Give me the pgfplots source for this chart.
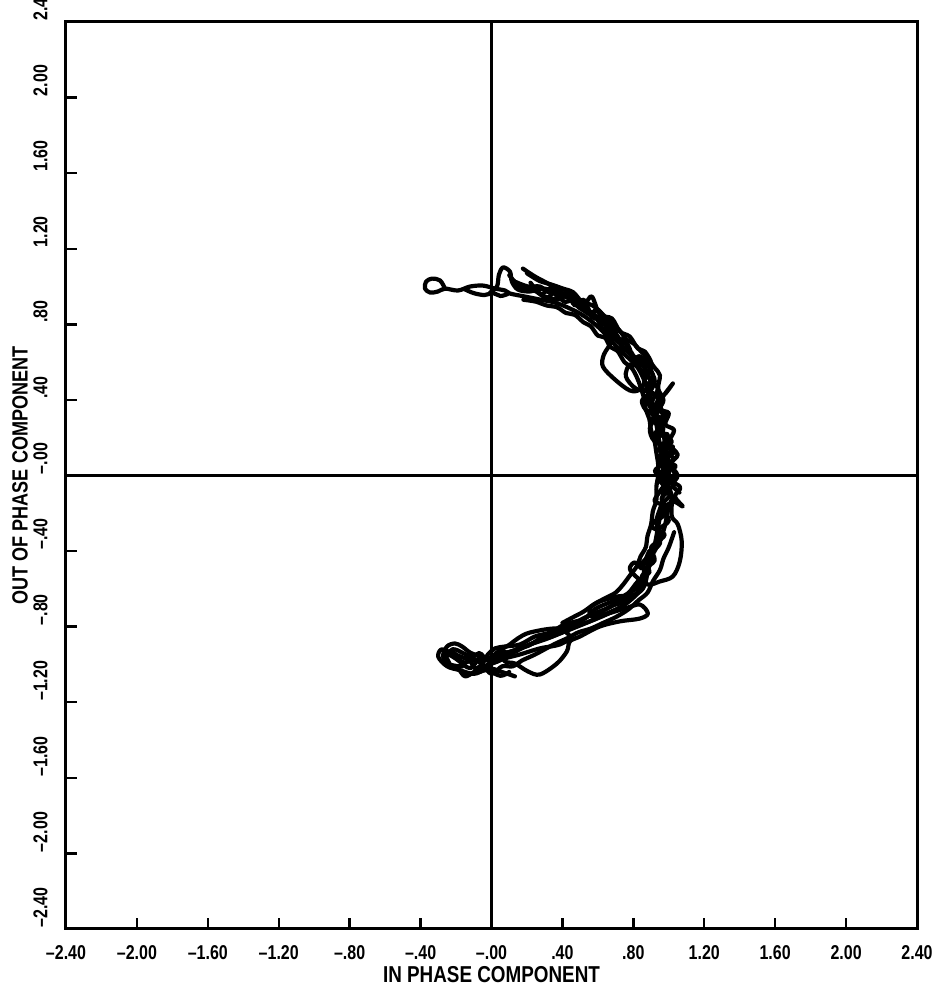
\documentclass[border=0pt]{standalone}
\usepackage{fontspec}
\newfontfamily\tickfont[FakeStretch=0.8]{Liberation Sans}
\newfontfamily\lblfont[FakeStretch=0.82]{Liberation Sans}
\usepackage{pgfplots}
\pgfplotsset{compat=1.18}
\begin{document}
\begin{tikzpicture}
\begin{axis}[
  scale only axis, width=425.5pt, height=453.5pt,
  xmin=-2.4, xmax=2.4, ymin=-2.4, ymax=2.4,
  axis line style={line width=1.5pt},
  tick align=inside, tick pos=left, major tick length=5.5pt,
  every tick/.style={black, line width=1.2pt},
  xtick={-2.4,-2,-1.6,-1.2,-0.8,-0.4,0,0.4,0.8,1.2,1.6,2,2.4},
  ytick={-2.4,-2,-1.6,-1.2,-0.8,-0.4,0,0.4,0.8,1.2,1.6,2,2.4},
  xticklabels={–2.40,–2.00,–1.60,–1.20,–.80,–.40,–.00,.40,.80,1.20,1.60,2.00,2.40},
  yticklabels={–2.40,–2.00,–1.60,–1.20,–.80,–.40,–.00,.40,.80,1.20,1.60,2.00,2.40},
  xticklabel style={font=\tickfont\bfseries\fontsize{10}{12}\selectfont, anchor=north, yshift=-4.5pt},
  yticklabel style={font=\tickfont\bfseries\fontsize{10}{12}\selectfont, rotate=90, anchor=south west, inner xsep=0.5pt, inner ysep=9pt},
  xlabel={IN PHASE COMPONENT},
  ylabel={OUT OF PHASE COMPONENT},
  xlabel style={font=\lblfont\bfseries\fontsize{11.5}{13}\selectfont, at={(axis description cs:0.5,-0.0507)}, anchor=center},
  ylabel style={font=\lblfont\bfseries\fontsize{11}{13}\selectfont, at={(axis description cs:-0.054,0.5)}, anchor=center},
  trace/.style={black, line width=2.1pt, line join=round, line cap=round, smooth, tension=0.55},
]
\addplot[black, line width=1.3pt] coordinates {(-2.4,0) (2.4,0)};
\addplot[black, line width=1.3pt] coordinates {(0,-2.4) (0,2.4)};
% pass 1
\addplot[trace] coordinates {
(-0.262,0.989) (-0.290,1.032) (-0.335,1.042) (-0.369,1.026) (-0.375,0.989) (-0.346,0.968) (-0.301,0.974) (-0.262,0.989)
(-0.189,0.979) (-0.121,1.000) (-0.048,1.005) (0.020,0.989) (0.076,0.979) (0.104,0.963) (0.189,0.947) (0.273,0.931)
(0.358,0.915) (0.442,0.884) (0.527,0.841) (0.611,0.778) (0.679,0.709) (0.752,0.640) (0.820,0.577) (0.865,0.497)
(0.893,0.418) (0.915,0.339) (0.932,0.259) (0.949,0.164) (0.961,0.074) (0.972,-0.005) (0.966,-0.101) (0.955,-0.190)
(0.938,-0.280) (0.921,-0.365) (0.899,-0.444) (0.870,-0.524) (0.837,-0.598) (0.780,-0.661) (0.707,-0.709) (0.611,-0.751)
(0.510,-0.788) (0.414,-0.825) (0.318,-0.862) (0.217,-0.894) (0.132,-0.926) (0.048,-0.947) (-0.020,-0.968) (-0.093,-0.979)
(-0.177,-0.958) (-0.234,-0.931) (-0.262,-0.958) (-0.234,-1.000) (-0.166,-1.011)
};
% pass 1b: lens near the vertical axis
\addplot[trace] coordinates {
(-0.150,0.985) (-0.100,0.965) (-0.040,0.955) (0.010,0.965) (0.050,0.950) (0.090,0.960)
};
% pass 2
\addplot[trace] coordinates {
(0.177,1.095) (0.245,1.053) (0.318,1.016) (0.386,0.974) (0.454,0.931) (0.499,0.884) (0.583,0.841) (0.639,0.762)
(0.713,0.709) (0.769,0.656) (0.837,0.603) (0.882,0.534) (0.904,0.471) (0.882,0.392) (0.921,0.323) (0.961,0.259)
(0.977,0.180) (0.994,0.101) (1.006,0.037) (0.989,-0.032) (1.017,-0.111) (0.994,-0.190) (0.977,-0.270) (0.949,-0.349)
(0.904,-0.429) (0.882,-0.508) (0.854,-0.587) (0.808,-0.640) (0.735,-0.693) (0.639,-0.735) (0.555,-0.772) (0.442,-0.815)
(0.341,-0.852) (0.245,-0.884) (0.161,-0.915) (0.076,-0.942) (0.020,-0.974) (-0.037,-1.011) (-0.076,-1.042) (-0.008,-1.021)
(0.065,-1.042) (0.132,-1.063)
};
% pass 3
\addplot[trace] coordinates {
(-0.008,0.968) (0.031,1.000) (0.042,1.063) (0.065,1.101) (0.104,1.079) (0.115,1.026) (0.149,0.984) (0.217,0.974)
(0.301,0.989) (0.386,0.958) (0.470,0.921) (0.555,0.868) (0.639,0.799) (0.679,0.720) (0.634,0.640) (0.628,0.577)
(0.696,0.508) (0.780,0.450) (0.837,0.455) (0.865,0.508) (0.837,0.566) (0.780,0.587) (0.758,0.524) (0.814,0.460)
(0.893,0.444) (0.961,0.418) (1.023,0.487) (0.961,0.407) (0.927,0.312) (0.893,0.249) (0.921,0.180) (1.034,0.127)
(0.949,0.090) (1.039,0.048) (0.938,0.005) (1.062,-0.058) (1.034,-0.111) (1.079,-0.164) (1.023,-0.138) (1.017,-0.217)
(1.051,-0.259) (1.073,-0.349) (1.062,-0.455) (1.023,-0.534) (0.949,-0.561) (0.882,-0.577) (0.814,-0.534) (0.780,-0.492)
(0.808,-0.460) (0.848,-0.492) (0.865,-0.455) (0.893,-0.402) (0.865,-0.577) (0.808,-0.630) (0.713,-0.640) (0.611,-0.667)
(0.555,-0.704) (0.566,-0.746) (0.639,-0.735) (0.752,-0.704) (0.837,-0.683) (0.882,-0.730) (0.837,-0.757) (0.724,-0.772)
(0.611,-0.799) (0.499,-0.852) (0.442,-0.878) (0.425,-0.931) (0.369,-0.995) (0.273,-1.053) (0.206,-1.037) (0.132,-0.995)
(0.076,-0.984) (0.048,-0.931) (0.104,-0.894) (0.149,-0.862) (0.217,-0.831) (0.369,-0.810) (0.442,-0.852) (0.386,-0.894)
(0.273,-0.915) (0.161,-0.947) (0.076,-0.968) (-0.008,-1.000) (-0.093,-1.037) (-0.149,-1.063) (-0.189,-1.021) (-0.234,-1.000)
(-0.273,-0.958) (-0.251,-0.905) (-0.206,-0.889) (-0.166,-0.905) (-0.121,-0.937) (-0.065,-0.958)
};
% pass 4
\addplot[trace] coordinates {
(0.301,0.947) (0.375,0.931) (0.442,0.958) (0.499,0.894) (0.555,0.852) (0.600,0.878) (0.668,0.788) (0.696,0.735)
(0.752,0.709) (0.792,0.630) (0.865,0.619) (0.893,0.566) (0.921,0.497) (0.882,0.429) (0.848,0.392) (0.882,0.339)
(0.949,0.365) (0.966,0.286) (0.915,0.206) (0.994,0.217) (0.949,0.127) (1.023,0.153) (0.977,0.074) (0.921,0.021)
(0.994,-0.016) (0.949,-0.085) (0.921,-0.138) (0.994,-0.164) (0.949,-0.217) (0.904,-0.270) (0.977,-0.312) (0.921,-0.365)
(0.882,-0.429) (0.837,-0.481) (0.893,-0.508) (0.825,-0.561) (0.769,-0.624) (0.679,-0.667) (0.589,-0.704) (0.527,-0.757)
(0.414,-0.788) (0.330,-0.831) (0.245,-0.852) (0.161,-0.894) (0.076,-0.905) (0.020,-0.915) (-0.020,-0.947) (-0.054,-1.000)
(-0.093,-1.021) (-0.121,-0.984) (-0.166,-1.000)
};
% pass 5
\addplot[trace] coordinates {
(0.132,1.026) (0.206,1.000) (0.273,1.000) (0.330,0.968) (0.397,0.989) (0.454,0.947) (0.527,0.915) (0.566,0.947)
(0.611,0.852) (0.679,0.831) (0.724,0.762) (0.780,0.735) (0.825,0.672) (0.865,0.656) (0.904,0.587) (0.882,0.524)
(0.938,0.460) (0.904,0.376) (0.983,0.312) (0.949,0.233) (1.017,0.180) (0.961,0.111) (1.034,0.005) (0.966,-0.048)
(1.006,-0.101) (0.961,-0.153) (0.932,-0.228)
};
% pass 6
\addplot[trace] coordinates {
(0.22,1.02) (0.28,0.96) (0.33,0.99) (0.38,0.94) (0.43,0.96) (0.47,0.90) (0.52,0.93) (0.56,0.86) (0.60,0.87) (0.64,0.80)
(0.69,0.78) (0.72,0.71) (0.77,0.69) (0.80,0.62) (0.84,0.63) (0.87,0.56) (0.86,0.50) (0.90,0.47) (0.88,0.40) (0.93,0.35)
(0.91,0.29) (0.97,0.25) (0.93,0.19) (0.99,0.14) (0.95,0.08) (1.00,0.03) (0.95,-0.03) (1.01,-0.07) (0.96,-0.12) (0.98,-0.20)
(0.93,-0.25) (0.96,-0.33) (0.90,-0.38) (0.92,-0.45) (0.86,-0.50) (0.87,-0.56) (0.80,-0.60) (0.76,-0.66) (0.68,-0.69) (0.62,-0.72)
(0.55,-0.74) (0.49,-0.78) (0.42,-0.80) (0.35,-0.84) (0.28,-0.86) (0.21,-0.90) (0.14,-0.92) (0.08,-0.96) (0.01,-0.99) (-0.06,-0.96)
(-0.12,-1.02) (-0.20,-0.97) (-0.26,-0.94) (-0.24,-0.99)
};
% pass 7
\addplot[trace] coordinates {
(0.10,1.06) (0.16,1.00) (0.24,0.98) (0.31,0.94) (0.36,0.97) (0.41,0.92) (0.48,0.93) (0.53,0.88) (0.58,0.83) (0.62,0.84)
(0.66,0.76) (0.71,0.74) (0.74,0.67) (0.79,0.65) (0.82,0.59) (0.88,0.58) (0.91,0.52) (0.87,0.45) (0.94,0.41) (0.90,0.33)
(0.96,0.30) (0.94,0.22) (1.00,0.20) (0.96,0.13) (1.03,0.09) (0.97,0.04) (1.02,-0.02) (0.98,-0.07) (1.03,-0.13) (0.97,-0.17)
(1.00,-0.24) (0.94,-0.29) (0.95,-0.36) (0.90,-0.41) (0.89,-0.48) (0.85,-0.53) (0.83,-0.58) (0.77,-0.63) (0.71,-0.67) (0.66,-0.70)
(0.58,-0.73) (0.51,-0.76) (0.46,-0.79) (0.39,-0.82) (0.31,-0.85) (0.25,-0.88) (0.18,-0.91) (0.11,-0.94) (0.04,-0.93) (-0.02,-0.98)
(-0.07,-0.94) (-0.15,-0.99) (-0.21,-0.95) (-0.28,-0.92) (-0.30,-0.96) (-0.25,-1.01) (-0.18,-1.03) (-0.10,-1.05) (-0.03,-1.03) (0.05,-1.06)
(0.10,-1.04)
};
% pass 8: outer edge of the upper band
\addplot[trace] coordinates {
(0.20,1.07) (0.27,1.03) (0.34,1.01) (0.40,0.99) (0.46,0.97) (0.51,0.92) (0.57,0.90) (0.62,0.86) (0.67,0.81) (0.72,0.77)
(0.76,0.72) (0.80,0.70) (0.84,0.66) (0.88,0.62) (0.92,0.57) (0.95,0.53) (0.94,0.46) (0.97,0.40) (0.95,0.35) (1.00,0.33)
(0.98,0.27) (1.03,0.24) (1.00,0.17) (1.05,0.11) (1.01,0.06) (1.05,0.00) (1.02,-0.05) (1.06,-0.09)
};
% pass 9: inner edge
\addplot[trace] coordinates {
(0.18,0.93) (0.25,0.92) (0.31,0.90) (0.37,0.89) (0.42,0.86) (0.47,0.85) (0.52,0.81) (0.56,0.79) (0.60,0.74) (0.64,0.73)
(0.67,0.68) (0.71,0.66) (0.75,0.60) (0.79,0.57) (0.82,0.52) (0.84,0.47) (0.86,0.41) (0.87,0.35) (0.89,0.30) (0.90,0.24)
(0.92,0.18) (0.93,0.12) (0.94,0.06) (0.94,0.00) (0.93,-0.06) (0.93,-0.13) (0.91,-0.19) (0.90,-0.26) (0.88,-0.32) (0.87,-0.38)
(0.84,-0.43) (0.82,-0.48) (0.78,-0.53) (0.74,-0.58) (0.70,-0.62) (0.64,-0.65) (0.58,-0.68) (0.52,-0.72) (0.46,-0.75) (0.40,-0.78)
};
% pass 10: outer edge of the lower band
\addplot[trace] coordinates {
(1.03,-0.30) (1.00,-0.38) (0.97,-0.44) (0.95,-0.50) (0.91,-0.56) (0.88,-0.62) (0.83,-0.66) (0.77,-0.71) (0.70,-0.75) (0.63,-0.78)
(0.56,-0.81) (0.49,-0.83) (0.43,-0.86) (0.36,-0.89) (0.30,-0.92) (0.24,-0.95) (0.17,-0.98) (0.12,-1.01) (0.06,-1.01) (0.00,-1.05)
(-0.05,-1.00) (-0.10,-0.97) (-0.16,-0.94) (-0.22,-0.92) (-0.27,-0.97)
};
\end{axis}
\pgfresetboundingbox
\path ([xshift=-33pt,yshift=-31.5pt]current axis.south west) rectangle ([xshift=11.5pt,yshift=11pt]current axis.north east);
\end{tikzpicture}
\end{document}
